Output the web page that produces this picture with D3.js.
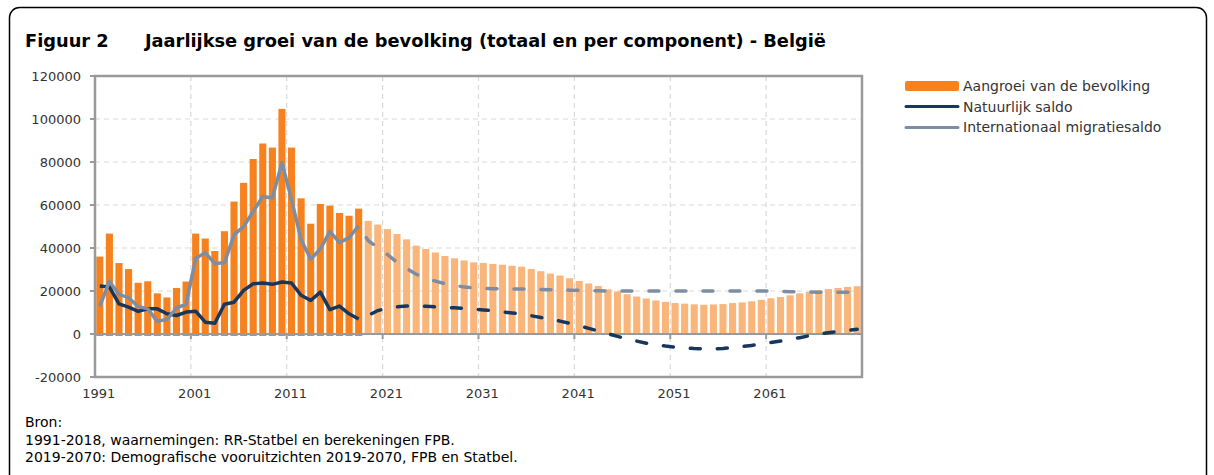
<!DOCTYPE html>
<html><head><meta charset="utf-8">
<script src="https://cdn.jsdelivr.net/npm/d3@7"></script>
<style>
html,body{margin:0;padding:0;background:#fff;}
svg{display:block;}
</style></head>
<body>
<svg id="chart" width="1214" height="475"></svg>
<script>
// ---- DATA ----
const years = d3.range(1991, 2071);
const histYears = d3.range(1991, 2019);
const projYears = d3.range(2019, 2071);

// Aangroei van de bevolking (observed 1991-2018)
const growthHist = [36000, 46700, 33000, 30200, 23800, 24500, 18900, 17000, 21400, 24400,
  46700, 44400, 38600, 47800, 61600, 70300, 81400, 88600, 86700, 104700,
  86700, 63100, 51300, 60500, 59700, 56300, 55000, 58300];
// Aangroei van de bevolking (projection 2019-2070)
const growthProj = [52600, 50900, 48800, 46500, 44000, 41100, 39500, 37900, 36300, 35200,
  34200, 33300, 33000, 32600, 32200, 31700, 31300, 30200, 29200, 28100,
  27200, 25900, 24700, 23500, 22300, 20800, 19800, 18500, 17400, 16500,
  15600, 14900, 14400, 14100, 13800, 13600, 13750, 13900, 14400, 14700,
  15200, 15900, 16600, 17200, 18000, 18900, 19500, 20300, 20900, 21400,
  21900, 22200];

// Natuurlijk saldo
const naturalHist = [22300, 21900, 14000, 12500, 10500, 11700, 11700, 9400, 8600, 10200,
  10600, 5500, 5000, 13800, 14800, 20300, 23400, 23700, 23100, 24200,
  23700, 18000, 15600, 19500, 11300, 13000, 9400, 7000];
const naturalProj = [8600, 10900, 12000, 12600, 13000, 13100, 12900, 12600, 12300, 12200,
  11900, 11600, 11200, 10800, 10300, 9800, 9300, 8500, 7700, 6900,
  6000, 5000, 3900, 2600, 1400, 100, -1100, -2300, -3300, -4300,
  -5000, -5600, -6100, -6500, -6800, -6900, -6900, -6700, -6300, -5800,
  -5300, -4700, -4000, -3300, -2500, -1700, -800, 0, 600, 1200,
  1700, 2200];

// Internationaal migratiesaldo
const migrationHist = [12800, 24500, 18400, 16900, 12800, 11700, 5900, 6700, 12200, 13800,
  35200, 37800, 32800, 33100, 46100, 50000, 57000, 64000, 63300, 79700,
  62500, 43800, 34800, 39500, 47700, 42500, 44800, 50300];
const migrationProj = [43400, 40200, 37000, 33300, 30500, 27800, 25800, 24600, 23400, 22500,
  21900, 21400, 21200, 21100, 21000, 21000, 20900, 20800, 20700, 20600,
  20500, 20400, 20300, 20200, 20100, 20000, 20000, 20000, 20000, 20000,
  20000, 20000, 20000, 20000, 20000, 20000, 20000, 20000, 20000, 20000,
  20000, 20000, 20000, 19800, 19700, 19600, 19500, 19400, 19400, 19400,
  19400, 19400];

const yTicks = [-20000, 0, 20000, 40000, 60000, 80000, 100000, 120000];
const xTickYears = [1991, 2001, 2011, 2021, 2031, 2041, 2051, 2061];
const gridYears = [2001, 2011, 2021, 2031, 2041, 2051, 2061];

const titleNum = "Figuur 2";
const titleText = "Jaarlijkse groei van de bevolking (totaal en per component) - België";
const legendLabels = ["Aangroei van de bevolking", "Natuurlijk saldo", "Internationaal migratiesaldo"];
const sourceLines = ["Bron:",
  "1991-2018, waarnemingen: RR-Statbel en berekeningen FPB.",
  "2019-2070: Demografische vooruitzichten 2019-2070, FPB en Statbel."];

// ---- STYLE ----
const C = {
  orange: "#F5821F", orangeLight: "#FAB57A", navy: "#17375E", grayblue: "#7D8DA3",
  axis: "#9A9A9A", grid: "#D9D9D9", text: "#333333"
};
const FONT = "'DejaVu Sans', sans-serif";

const svg = d3.select("#chart");
svg.append("rect").attr("x", 9.5).attr("y", 7.5).attr("width", 1197).attr("height", 520)
  .attr("rx", 10).attr("fill", "#fff").attr("stroke", "#000").attr("stroke-width", 1.5);

// title
svg.append("text").attr("x", 25).attr("y", 47).attr("font-family", FONT).attr("font-weight", "bold")
  .attr("font-size", 17.8).attr("fill", "#000").text(titleNum);
svg.append("text").attr("x", 145).attr("y", 47).attr("font-family", FONT).attr("font-weight", "bold")
  .attr("font-size", 17.8).attr("fill", "#000").text(titleText);

// scales
const L = 95, R = 862, T = 76, B = 377;
const x = d3.scaleBand().domain(years).range([L, R]).paddingInner(0.26).paddingOuter(0.13);
const y = d3.scaleLinear().domain([-20000, 120000]).range([B, T]);
const gap = (x.step() - x.bandwidth()) / 2;
const cx = d => x(d) + x.bandwidth() / 2;
const boundary = d => x(d) - gap;

const g = svg.append("g");

// horizontal grid
g.selectAll("line.hg").data(yTicks.filter(v => v > 0 && v < 120000)).enter().append("line")
  .attr("x1", L).attr("x2", R).attr("y1", d => y(d)).attr("y2", d => y(d))
  .attr("stroke", C.grid).attr("stroke-width", 1.2).attr("stroke-dasharray", "5,4");
// vertical grid
g.selectAll("line.vg").data(gridYears).enter().append("line")
  .attr("x1", d => boundary(d)).attr("x2", d => boundary(d)).attr("y1", T).attr("y2", B)
  .attr("stroke", C.grid).attr("stroke-width", 1.2).attr("stroke-dasharray", "5,4");

// bars
g.selectAll("rect.h").data(histYears).enter().append("rect")
  .attr("x", d => x(d)).attr("width", x.bandwidth())
  .attr("y", (d, i) => y(growthHist[i])).attr("height", (d, i) => y(0) - y(growthHist[i]) + 2)
  .attr("fill", C.orange);
g.selectAll("rect.p").data(projYears).enter().append("rect")
  .attr("x", d => x(d)).attr("width", x.bandwidth())
  .attr("y", (d, i) => y(growthProj[i])).attr("height", (d, i) => y(0) - y(growthProj[i]))
  .attr("fill", C.orangeLight);

// zero axis line
g.append("line").attr("x1", L).attr("x2", R).attr("y1", y(0)).attr("y2", y(0))
  .attr("stroke", C.axis).attr("stroke-width", 2.2);
// x ticks at zero
g.selectAll("line.xt").data(gridYears).enter().append("line")
  .attr("x1", d => boundary(d)).attr("x2", d => boundary(d)).attr("y1", y(0)).attr("y2", y(0) + 5)
  .attr("stroke", C.axis).attr("stroke-width", 2);

// lines
const line = d3.line().x(d => cx(d[0])).y(d => y(d[1]));
const natH = histYears.map((d, i) => [d, naturalHist[i]]);
const natP = [[2018, naturalHist[naturalHist.length - 1]]].concat(projYears.map((d, i) => [d, naturalProj[i]]));
const migH = histYears.map((d, i) => [d, migrationHist[i]]);
const migP = [[2018, migrationHist[migrationHist.length - 1]]].concat(projYears.map((d, i) => [d, migrationProj[i]]));

g.append("path").attr("d", line(natH)).attr("fill", "none").attr("stroke", C.navy)
  .attr("stroke-width", 3.5).attr("stroke-linejoin", "round");
g.append("path").attr("d", line(natP)).attr("fill", "none").attr("stroke", C.navy)
  .attr("stroke-width", 3.5).attr("stroke-dasharray", "10,17").attr("stroke-dashoffset", -14).attr("stroke-linecap", "round");
g.append("path").attr("d", line(migH)).attr("fill", "none").attr("stroke", C.grayblue)
  .attr("stroke-width", 3.5).attr("stroke-linejoin", "round");
g.append("path").attr("d", line(migP)).attr("fill", "none").attr("stroke", C.grayblue)
  .attr("stroke-width", 3.5).attr("stroke-dasharray", "10,17").attr("stroke-dashoffset", -14).attr("stroke-linecap", "round");

// plot border
g.append("rect").attr("x", L).attr("y", T).attr("width", R - L).attr("height", B - T)
  .attr("fill", "none").attr("stroke", C.axis).attr("stroke-width", 2.5);

// y axis ticks and labels
g.selectAll("line.yt").data(yTicks).enter().append("line")
  .attr("x1", L - 5).attr("x2", L).attr("y1", d => y(d)).attr("y2", d => y(d))
  .attr("stroke", C.axis).attr("stroke-width", 2);
g.selectAll("text.yl").data(yTicks).enter().append("text")
  .attr("x", 81).attr("y", d => y(d)).attr("dy", "0.36em").attr("text-anchor", "end")
  .attr("font-family", FONT).attr("font-size", 13).attr("fill", C.text).text(d => d);
// x labels
g.selectAll("text.xl").data(xTickYears).enter().append("text")
  .attr("x", d => cx(d) - 1).attr("y", 398).attr("text-anchor", "middle")
  .attr("font-family", FONT).attr("font-size", 13).attr("fill", C.text).text(d => d);

// legend
const lg = svg.append("g");
lg.append("rect").attr("x", 905).attr("y", 81).attr("width", 54).attr("height", 10).attr("rx", 2).attr("fill", C.orange);
lg.append("line").attr("x1", 906).attr("x2", 958).attr("y1", 106.5).attr("y2", 106.5)
  .attr("stroke", C.navy).attr("stroke-width", 3).attr("stroke-linecap", "round");
lg.append("line").attr("x1", 906).attr("x2", 958).attr("y1", 127.5).attr("y2", 127.5)
  .attr("stroke", C.grayblue).attr("stroke-width", 3).attr("stroke-linecap", "round");
const legY = [86, 106.5, 127];
lg.selectAll("text").data(legendLabels).enter().append("text")
  .attr("x", 963).attr("y", (d, i) => legY[i]).attr("dy", "0.36em")
  .attr("font-family", FONT).attr("font-size", 14).attr("fill", C.text).text(d => d);

// source
const srcY = [427, 445, 462];
svg.selectAll("text.src").data(sourceLines).enter().append("text")
  .attr("x", 25).attr("y", (d, i) => srcY[i])
  .attr("font-family", FONT).attr("font-size", 14).attr("fill", "#000").text(d => d);
</script>
</body></html>
